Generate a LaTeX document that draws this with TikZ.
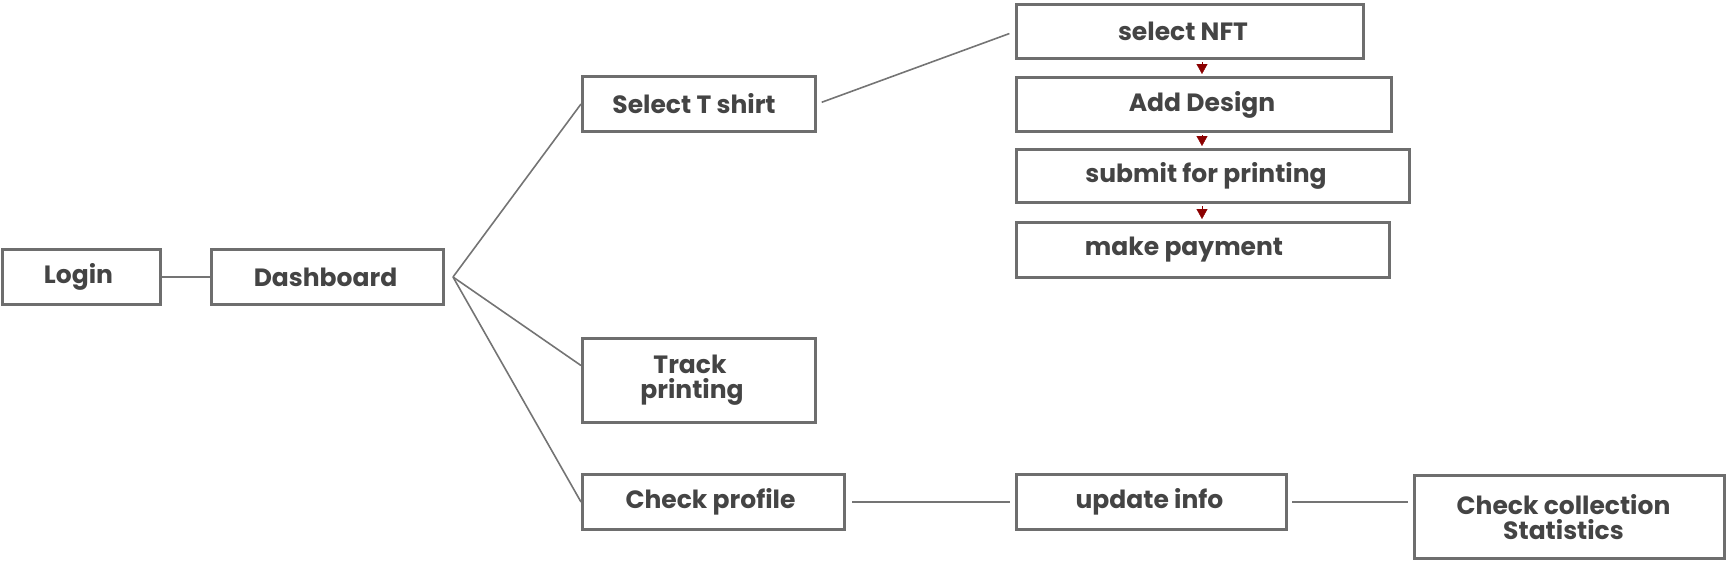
\documentclass[tikz,border=0pt]{standalone}
\usepackage{fontspec}
\setmainfont{Poppins}
\usepackage{tikz}
\usetikzlibrary{arrows.meta}
\definecolor{boxgray}{HTML}{6E6E6E}
\definecolor{linegray}{HTML}{747474}
\definecolor{textgray}{HTML}{444444}
\definecolor{arrowred}{HTML}{8B0000}

\begin{document}
\begin{tikzpicture}[x=1pt,y=-1pt,
	box/.style={draw=boxgray, line width=3pt, text=textgray, inner sep=0pt, align=center, font=\fontsize{25}{25}\selectfont\bfseries},
	nudge/.style={execute at begin node={\hspace*{#1}}},
	wire/.style={draw=linegray, line width=1.6pt},
	flowtip/.style={arrowred, line width=0.4pt, shorten <=2pt, shorten >=2pt, -{Triangle[width=11pt,length=10pt]}}]
		\useasboundingbox (0,0) rectangle (1728,562);
		\node[box, nudge=-6pt, minimum width=158, minimum height=55] (login) at (81.5,277) {Login};
		\node[box, nudge=-4pt, minimum width=232, minimum height=55] (dash) at (327.5,277) {Dashboard};
		\node[box, nudge=-10pt, minimum width=233, minimum height=55] (tshirt) at (699,104) {Select T shirt};
		\node[box, minimum width=233, minimum height=84] (track) at (699,380.5) {\hspace*{-18pt}Track\\\hspace*{-14pt}printing};
		\node[box, nudge=-6pt, minimum width=262, minimum height=55] (profile) at (713.5,502) {Check profile};
		\node[box, nudge=-4pt, minimum width=270, minimum height=55] (update) at (1151.5,502) {update info};
		\node[box, minimum width=310, minimum height=83] (stats) at (1569.5,517) {\hspace*{-12pt}Check collection\\\hspace*{-12pt}Statistics};
		\node[box, nudge=-14pt, minimum width=347, minimum height=54] (nft) at (1190,31.5) {select NFT};
		\node[box, nudge=-4pt, minimum width=375, minimum height=54] (design) at (1204,104.5) {Add Design};
		\node[box, nudge=-14pt, minimum width=393, minimum height=53] (submit) at (1213,176) {submit for printing};
		\node[box, nudge=-38pt, minimum width=373, minimum height=55] (payment) at (1203,250) {make payment};
		\coordinate (fan) at (453,277);
		\coordinate (col) at (1202,0);
		\draw[wire] (login) -- (dash);
		\draw[wire] (fan) -- (tshirt.west);
		\draw[wire] (fan) -- ([yshift=15pt]track.west);
		\draw[wire] (fan) -- (profile.west);
		\draw[wire, shorten <=5pt, shorten >=6pt] (tshirt.east) -- (nft.west);
		\draw[wire, shorten <=6pt, shorten >=5pt] (profile) -- (update);
		\draw[wire, shorten <=4pt, shorten >=5pt] (update.east) -- (update.east -| stats.west);
		\draw[flowtip] (nft.south -| col) -- (design.north -| col);
		\draw[flowtip] (design.south -| col) -- (submit.north -| col);
		\draw[flowtip] (submit.south -| col) -- (payment.north -| col);
	\end{tikzpicture}
\end{document}
